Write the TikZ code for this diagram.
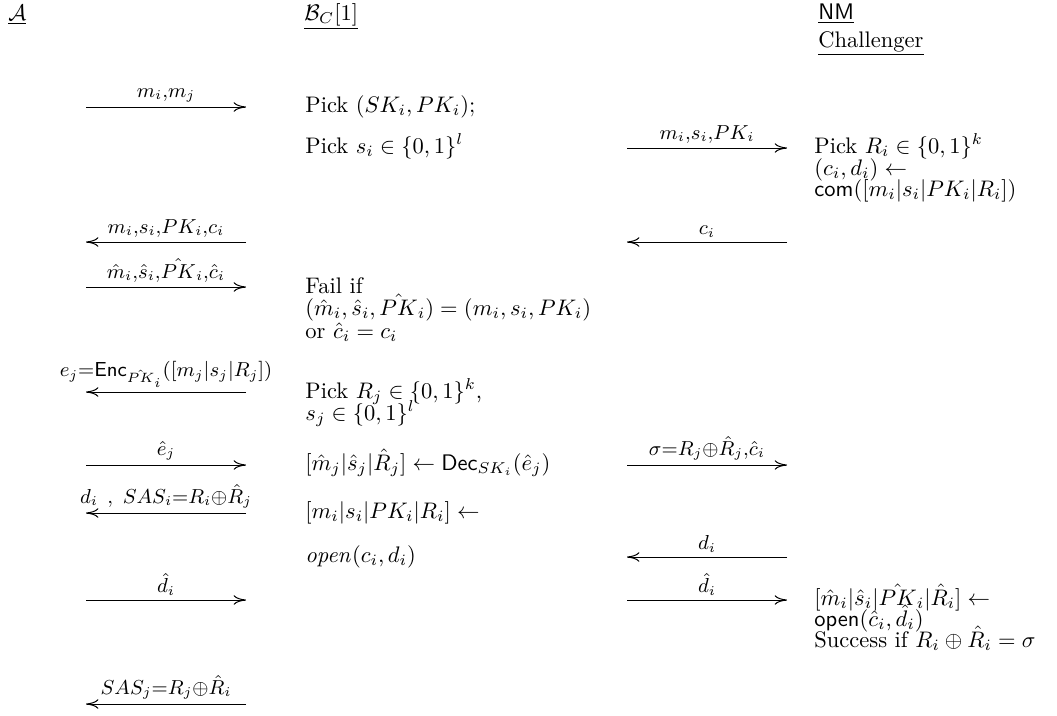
\documentclass[tikz,border=0pt]{standalone}
\usetikzlibrary{arrows.meta}
\DeclareMathSizes{13}{13}{9}{6}
\tikzset{
  txt/.style={anchor=base west, inner sep=0pt},
  lbl/.style={anchor=south, inner sep=0pt, yshift=2pt, font=\fontsize{13}{16}\selectfont},
  msg/.style={-{To[length=5.5pt,width=4.2pt]}, line width=0.45pt},
}
\begin{document}
\begin{tikzpicture}[x=0.4444pt, y=-0.4444pt]
\path[use as bounding box] (0,0) rectangle (1057,715);
% headers
\node[txt] (hA) at (8,20) {$\underline{\mathcal{A}}$};
\node[txt] (hB) at (304,20) {$\underline{\mathcal{B}_C[1]}$};
\node[txt] (hN) at (818,19) {\underline{\textsf{NM}}};
\node[txt] (hC) at (818,47) {\underline{Challenger}};
% left arrow end points
\coordinate (a1) at (86,107);  \coordinate (b1) at (246,107);
\coordinate (a2) at (86,242);  \coordinate (b2) at (246,242);
\coordinate (a3) at (86,287);  \coordinate (b3) at (246,287);
\coordinate (a4) at (86,392);  \coordinate (b4) at (246,392);
\coordinate (a5) at (86,465);  \coordinate (b5) at (246,465);
\coordinate (a6) at (86,513);  \coordinate (b6) at (246,513);
\coordinate (a7) at (86,600);  \coordinate (b7) at (246,600);
\coordinate (a8) at (86,704);  \coordinate (b8) at (246,704);
% right arrow end points
\coordinate (c1) at (627,148); \coordinate (d1) at (787,148);
\coordinate (c2) at (627,242); \coordinate (d2) at (787,242);
\coordinate (c3) at (627,465); \coordinate (d3) at (787,465);
\coordinate (c4) at (627,557); \coordinate (d4) at (787,557);
\coordinate (c5) at (627,600); \coordinate (d5) at (787,600);
% left messages
\draw[msg] (a1) -- node[lbl]{$\scriptstyle m_i,m_j$} (b1);
\draw[msg] (b2) -- node[lbl]{$\scriptstyle m_i,s_i,PK_i,c_i$} (a2);
\draw[msg] (a3) -- node[lbl]{$\scriptstyle \hat{m}_i,\hat{s}_i,\hat{PK}_i,\hat{c}_i$} (b3);
\draw[msg] (b4) -- node[lbl]{$\scriptstyle e_j=\mathsf{Enc}_{\hat{PK}_i}([m_j|s_j|R_j])$} (a4);
\draw[msg] (a5) -- node[lbl]{$\scriptstyle \hat{e}_j$} (b5);
\draw[msg] (b6) -- node[lbl]{$\scriptstyle d_i\ ,\ SAS_i=R_i\oplus\hat{R}_j$} (a6);
\draw[msg] (a7) -- node[lbl]{$\scriptstyle \hat{d}_i$} (b7);
\draw[msg] (b8) -- node[lbl]{$\scriptstyle SAS_j=R_j\oplus\hat{R}_i$} (a8);
% right messages
\draw[msg] (c1) -- node[lbl]{$\scriptstyle m_i,s_i,PK_i$} (d1);
\draw[msg] (d2) -- node[lbl]{$\scriptstyle c_i$} (c2);
\draw[msg] (c3) -- node[lbl]{$\scriptstyle \sigma=R_j\oplus\hat{R}_j,\hat{c}_i$} (d3);
\draw[msg] (d4) -- node[lbl]{$\scriptstyle d_i$} (c4);
\draw[msg] (c5) -- node[lbl]{$\scriptstyle \hat{d}_i$} (d5);
% middle column
\node[txt] (m1) at (305,112) {Pick $(SK_i, PK_i)$;};
\node[txt] (m2) at (305,153) {Pick $s_i \in \{0,1\}^l$};
\node[txt] (m3) at (305,293) {Fail if};
\node[txt] (m4) at (305,315) {$(\hat{m}_i, \hat{s}_i, \hat{PK}_i) = (m_i, s_i, PK_i)$};
\node[txt] (m5) at (305,338) {or $\hat{c}_i = c_i$};
\node[txt] (m6) at (305,398) {Pick $R_j \in \{0,1\}^k$,};
\node[txt] (m7) at (305,420) {$s_j \in \{0,1\}^l$};
\node[txt] (m8) at (305,470) {$[\hat{m}_j|\hat{s}_j|\hat{R}_j] \leftarrow \mathsf{Dec}_{SK_i}(\hat{e}_j)$};
\node[txt] (m9) at (305,518) {$[m_i|s_i|PK_i|R_i] \leftarrow$};
\node[txt] (m10) at (305,562) {$\mathit{open}(c_i,d_i)$};
% right column
\node[txt] (r1) at (814,153) {Pick $R_i \in \{0,1\}^k$};
\node[txt] (r2) at (814,175) {$(c_i, d_i) \leftarrow$};
\node[txt] (r3) at (814,196) {$\mathsf{com}([m_i|s_i|PK_i|R_i])$};
\node[txt] (r4) at (814,605) {$[\hat{m}_i|\hat{s}_i|\hat{PK}_i|\hat{R}_i] \leftarrow$};
\node[txt] (r5) at (814,626) {$\mathsf{open}(\hat{c}_i,\hat{d}_i)$};
\node[txt] (r6) at (814,647) {Success if $R_i \oplus \hat{R}_i = \sigma$};
\end{tikzpicture}
\end{document}
